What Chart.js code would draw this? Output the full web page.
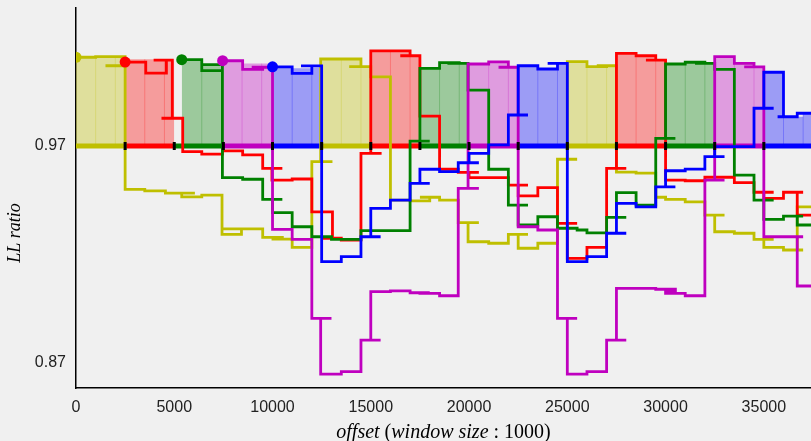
<!DOCTYPE html>
<html>
<head>
<meta charset="utf-8">
<script src="https://cdn.jsdelivr.net/npm/chart.js@4.4.1/dist/chart.umd.min.js"></script>
<style>
  html, body { margin: 0; padding: 0; background: #f0f0f0; }
  #wrap { width: 811px; height: 441px; }
</style>
</head>
<body>
<div id="wrap"><canvas id="chart" width="811" height="441"></canvas></div>
<script>
'use strict';

// ---- axis ticks ----
const xTickValues = [0, 5000, 10000, 15000, 20000, 25000, 30000, 35000];
const xTickLabels = ['0', '5000', '10000', '15000', '20000', '25000', '30000', '35000'];
const yTickValues = [0.87, 0.97];
const yTickLabels = ['0.87', '0.97'];

// window groups along the baseline (y, r, g, m, b repeating)
const segEdges = [0, 2500, 5000, 7500, 10000, 12500, 15000, 17500, 20000, 22500,
                  25000, 27500, 30000, 32500, 35000, 37500];

// ---- LL ratio step traces: [offset, ratio], each point starts a step ----
const yellowLine = [
  [0, 1.0109], [1000, 1.0112], [2500, 1.0070], [1500, 1.0070], [2500, 0.9500], [3500, 0.9493],
  [4550, 0.9483], [6050, 0.9483], [5380, 0.9466], [6400, 0.9474], [7430, 0.9293], [8420, 0.9318],
  [7430, 0.9318], [9500, 0.9279], [10500, 0.9271], [9950, 0.9271], [11000, 0.9233], [12000, 0.9628],
  [13050, 0.9628], [12450, 1.0101],
  [14500, 1.0066], [13900, 1.0066], [15000, 1.0019], [16000, 0.9451], [17000, 0.9447], [18000, 0.9464],
  [17500, 0.9464], [18500, 0.9451], [19450, 0.9347], [20500, 0.9347], [19950, 0.9259], [21000, 0.9252],
  [22000, 0.9293], [23000, 0.9293], [22500, 0.9229], [23500, 0.9252], [24500, 0.9639], [25500, 0.9639],
  [25000, 1.0089],
  [26000, 1.0066], [27000, 1.0070], [26500, 1.0070], [27500, 0.9580], [28500, 0.9575], [29500, 0.9464],
  [30000, 0.9454], [31000, 0.9443], [32000, 0.9382], [33000, 0.9382], [32500, 0.9305], [33500, 0.9298],
  [34500, 0.9270], [35500, 0.9270], [35000, 0.9233], [36000, 0.9221], [37000, 0.9221], [36700, 0.9420],
  [37400, 0.9420]
];
const redLine = [
  [2500, 1.0087], [3550, 1.0036], [4600, 1.0096], [3950, 1.0096], [4900, 0.9828], [4350, 0.9828],
  [5430, 0.9674], [6400, 0.9663], [7450, 0.9678], [8480, 0.9659], [9500, 0.9597], [10500, 0.9597],
  [9970, 0.9543], [11000, 0.9548], [12000, 0.9397], [13050, 0.9275], [12500, 0.9275], [13500, 0.9267],
  [14500, 0.9666], [15550, 0.9666], [15000, 1.0138],
  [17000, 1.0116], [16500, 1.0116], [17500, 0.9838], [18500, 0.9593], [19450, 0.9579], [20500, 0.9579],
  [20000, 0.9554], [21000, 0.9554], [22000, 0.9520], [23000, 0.9520], [22500, 0.9470], [23500, 0.9508],
  [24500, 0.9344], [25500, 0.9344], [25000, 0.9182], [26000, 0.9233], [27000, 0.9597], [28000, 0.9597],
  [27500, 1.0127],
  [28500, 1.0116], [29500, 1.0096], [29000, 1.0096], [30000, 0.9543], [31000, 0.9540], [32000, 0.9556],
  [33500, 0.9531], [34500, 0.9487], [35500, 0.9487], [35000, 0.9459], [36000, 0.9487], [37000, 0.9487],
  [36700, 0.9382], [37400, 0.9382]
];
const greenLine = [
  [5380, 1.0098], [6400, 1.0047], [7450, 1.0075], [6400, 1.0075], [7450, 0.9554], [8480, 0.9547],
  [9500, 0.9454], [10500, 0.9454], [10000, 0.9393], [11000, 0.9328], [12000, 0.9282], [13000, 0.9270],
  [14500, 0.9310], [17000, 0.9723], [18000, 0.9723], [17500, 1.0058],
  [18500, 1.0084], [19500, 1.0081], [18900, 1.0081], [19950, 0.9958], [21000, 0.9593], [22000, 0.9428],
  [23000, 0.9428], [22500, 0.9336], [23500, 0.9374], [24500, 0.9321], [25500, 0.9313], [26000, 0.9300],
  [27000, 0.9371], [28000, 0.9371], [27500, 0.9485], [28500, 0.9428], [29500, 0.9735], [30500, 0.9735],
  [30000, 1.0078],
  [31000, 1.0086], [32000, 1.0081], [31500, 1.0081], [32500, 1.0053], [33500, 0.9566], [34500, 0.9451],
  [35500, 0.9451], [35000, 0.9362], [36000, 0.9377], [37000, 0.9377], [36700, 0.9336], [37400, 0.9336]
];
const magentaLine = [
  [7460, 1.0093], [8480, 1.0053], [9500, 1.0063], [8940, 1.0063], [10000, 0.9316], [11000, 0.9270],
  [12000, 0.8906], [13000, 0.8906], [12450, 0.8649], [13500, 0.8660], [14500, 0.8806], [15500, 0.8806],
  [15000, 0.9029], [16000, 0.9033], [17000, 0.9024], [18000, 0.9024], [17500, 0.9021], [18500, 0.9010],
  [19450, 0.9505], [20500, 0.9505], [19950, 1.0078],
  [21000, 1.0088], [22000, 1.0063], [21500, 1.0063], [22500, 0.9328], [23500, 0.9313], [24500, 0.8906],
  [25500, 0.8906], [25000, 0.8649], [26000, 0.8660], [27000, 0.8806], [28000, 0.8806], [27500, 0.9044],
  [28500, 0.9044], [29500, 0.9040], [30500, 0.9030], [30000, 0.9021], [31000, 0.9010], [32000, 0.9543],
  [33000, 0.9543], [32500, 1.0112],
  [33500, 1.0081], [34500, 1.0065], [34000, 1.0065], [35000, 0.9282], [37000, 0.9282], [36700, 0.9055],
  [37400, 0.9055]
];
const blueLine = [
  [10000, 1.0065], [11000, 1.0035], [12000, 1.0069], [11450, 1.0069], [12500, 0.9167], [13500, 0.9190],
  [14500, 0.9282], [15500, 0.9282], [15000, 0.9413], [16000, 0.9451], [17000, 0.9528], [18000, 0.9528],
  [17500, 0.9593], [18500, 0.9582], [19450, 0.9623], [20500, 0.9623], [20000, 0.9666], [21000, 0.9705],
  [22000, 0.9843], [23000, 0.9843], [22500, 1.0070],
  [23500, 1.0055], [24500, 1.0081], [24000, 1.0081], [25000, 0.9167], [26000, 0.9190], [27000, 0.9298],
  [28000, 0.9298], [27500, 0.9436], [28500, 0.9420], [29500, 0.9512], [30500, 0.9512], [30000, 0.9586],
  [31000, 0.9594], [32000, 0.9651], [33000, 0.9651], [32500, 0.9697], [33500, 0.9697], [34500, 0.9874],
  [35500, 0.9874], [35000, 1.0040],
  [36000, 0.9835], [35700, 0.9835], [36700, 0.9851], [37400, 0.9851]
];

// ---- shaded window bars: [bar start, bar top], null ends a group ----
const yellowFill = [
  [0, 1.0109], [1000, 1.0112], [2000, 1.0112], [2500, 1.0112], null,
  [12500, 1.0101], [13500, 1.0101], [14500, 1.0066], [15000, 1.0066], null,
  [25000, 1.0089], [26000, 1.0066], [27000, 1.0070], [27500, 1.0070]
];
const redFill = [
  [2500, 1.0100], [3500, 1.0100], [4500, 1.0100], [5000, 1.0100], null,
  [15000, 1.0138], [16000, 1.0138], [17000, 1.0116], [17500, 1.0116], null,
  [27500, 1.0127], [28500, 1.0116], [29500, 1.0096], [30000, 1.0096]
];
const greenFill = [
  [5380, 1.0094], [6400, 1.0078], [7450, 1.0078], null,
  [17500, 1.0058], [18500, 1.0084], [19500, 1.0081], [20000, 1.0081], null,
  [30000, 1.0078], [31000, 1.0086], [32000, 1.0081], [32500, 1.0081]
];
const magentaFill = [
  [7450, 1.0093], [8450, 1.0080], [9450, 1.0080], [10000, 1.0080], null,
  [20000, 1.0078], [21000, 1.0088], [22000, 1.0063], [22500, 1.0063], null,
  [32500, 1.0112], [33500, 1.0081], [34500, 1.0065], [35000, 1.0065]
];
const blueFill = [
  [10000, 1.0062], [11000, 1.0058], [12000, 1.0062], [12500, 1.0062], null,
  [22500, 1.0070], [23500, 1.0055], [24500, 1.0081], [25000, 1.0081], null,
  [35000, 1.0040], [36000, 0.9835], [37000, 0.9851], [37400, 0.9851]
];

const BASE = 0.97;
const LINE_COLORS = ['#bfbf00', '#ff0000', '#008000', '#bf00bf', '#0000ff'];
const FILL_COLORS = ['rgba(191,191,0,0.35)', 'rgba(255,0,0,0.35)', 'rgba(0,128,0,0.35)',
                     'rgba(191,0,191,0.35)', 'rgba(0,0,255,0.35)'];
const EDGE_COLORS = ['rgba(191,191,0,0.25)', 'rgba(255,0,0,0.25)', 'rgba(0,128,0,0.25)',
                     'rgba(191,0,191,0.25)', 'rgba(0,0,255,0.25)'];

const lineSets = [yellowLine, redLine, greenLine, magentaLine, blueLine];
const fillSets = [yellowFill, redFill, greenFill, magentaFill, blueFill];

const pt = p => ({ x: p[0], y: p[1] });

function splitGroups(arr) {
  const groups = [[]];
  arr.forEach(p => (p ? groups[groups.length - 1].push(p) : groups.push([])));
  return groups.filter(g => g.length);
}

const datasets = [];

// shaded bars under the top of each window group, plus faint bar edges
fillSets.forEach((set, c) => {
  splitGroups(set).forEach(group => {
    datasets.push({
      data: group.map(pt), stepped: true, fill: { value: BASE },
      backgroundColor: FILL_COLORS[c], borderColor: 'transparent', borderWidth: 0,
      pointRadius: 0, order: 60
    });
    const edges = [];
    for (let i = 1; i < group.length - 1; i++) {
      const top = Math.max(group[i - 1][1], group[i][1]);
      edges.push({ x: group[i][0], y: BASE }, { x: group[i][0], y: top }, { x: NaN, y: NaN });
    }
    if (edges.length) {
      datasets.push({ data: edges, borderColor: EDGE_COLORS[c], borderWidth: 1, pointRadius: 0, order: 55 });
    }
  });
});

// coloured baseline at 0.97
datasets.push({
  data: segEdges.map(x => ({ x, y: BASE })),
  borderWidth: 5, borderColor: LINE_COLORS[0], pointRadius: 0, order: 40,
  segment: { borderColor: ctx => LINE_COLORS[ctx.p0DataIndex % 5] }
});

// step traces
lineSets.forEach((set, c) => {
  datasets.push({
    data: set.map(pt), stepped: true, borderColor: LINE_COLORS[c], borderWidth: 2.8,
    borderJoinStyle: 'miter', pointRadius: 0, order: 30 - c
  });
});

// black ticks between window groups
datasets.push({
  data: segEdges.slice(1, -1).map(x => ({ x, y: BASE })),
  showLine: false, pointStyle: 'line', pointRotation: 90, pointRadius: 4,
  pointBorderWidth: 3, pointBorderColor: '#000', order: 5
});

// start marker of each trace
datasets.push({
  data: lineSets.map(set => pt(set[0])),
  showLine: false, pointRadius: 5.5, pointBackgroundColor: LINE_COLORS,
  pointBorderWidth: 0, order: 1
});

// axis titles: math-style, italic words with upright digits and punctuation
const ITALIC = 'italic 20px "Liberation Serif"';
const UPRIGHT = '20px "Liberation Serif"';
const xTitleRuns = [
  ['offset', ITALIC], [' (', UPRIGHT], ['window', ITALIC], [' ', UPRIGHT],
  ['size', ITALIC], [' : ', UPRIGHT], ['1000)', UPRIGHT]
];

const axisTitles = {
  id: 'axisTitles',
  afterDraw(chart) {
    const ctx = chart.ctx;
    const area = chart.chartArea;
    ctx.save();
    ctx.fillStyle = '#000';
    ctx.textBaseline = 'middle';
    ctx.textAlign = 'left';
    let total = 0;
    xTitleRuns.forEach(([t, f]) => { ctx.font = f; total += ctx.measureText(t).width; });
    let x = (area.left + area.right) / 2 - total / 2;
    xTitleRuns.forEach(([t, f]) => {
      ctx.font = f;
      ctx.fillText(t, x, 433);
      x += ctx.measureText(t).width;
    });

    ctx.translate(15, 233);
    ctx.rotate(-Math.PI / 2);
    ctx.font = 'italic 18px "Liberation Serif"';
    ctx.textAlign = 'center';
    ctx.fillText('LL ratio', 0, 0);
    ctx.restore();
  }
};

new Chart(document.getElementById('chart'), {
  type: 'line',
  data: { datasets },
  plugins: [axisTitles],
  options: {
    responsive: false, animation: false, devicePixelRatio: 1, events: [],
    layout: { autoPadding: false, padding: { top: 8, left: 0, right: 0, bottom: 0 } },
    plugins: { legend: { display: false }, tooltip: { enabled: false } },
    scales: {
      x: {
        type: 'linear', min: 0, max: 37400,
        afterBuildTicks: s => { s.ticks = xTickValues.map(v => ({ value: v })); },
        afterFit: s => { s.height = 53; s.paddingLeft = 0; s.paddingRight = 0; },
        ticks: {
          callback: (v, i) => xTickLabels[i], padding: 10, maxRotation: 0,
          color: '#222', font: { family: 'Liberation Sans', size: 16 }
        },
        grid: { display: false, drawTicks: false },
        border: { display: true, color: '#000', width: 1.5 }
      },
      y: {
        type: 'linear', min: 0.8585, max: 1.0336,
        afterBuildTicks: s => { s.ticks = yTickValues.map(v => ({ value: v })); },
        afterFit: s => { s.width = 76; s.paddingTop = 0; s.paddingBottom = 0; },
        ticks: {
          callback: (v, i) => yTickLabels[i], padding: 10,
          color: '#222', font: { family: 'Liberation Sans', size: 16 }
        },
        grid: { display: false, drawTicks: false },
        border: { display: true, color: '#000', width: 1.5 }
      }
    }
  }
});
</script>
</body>
</html>
